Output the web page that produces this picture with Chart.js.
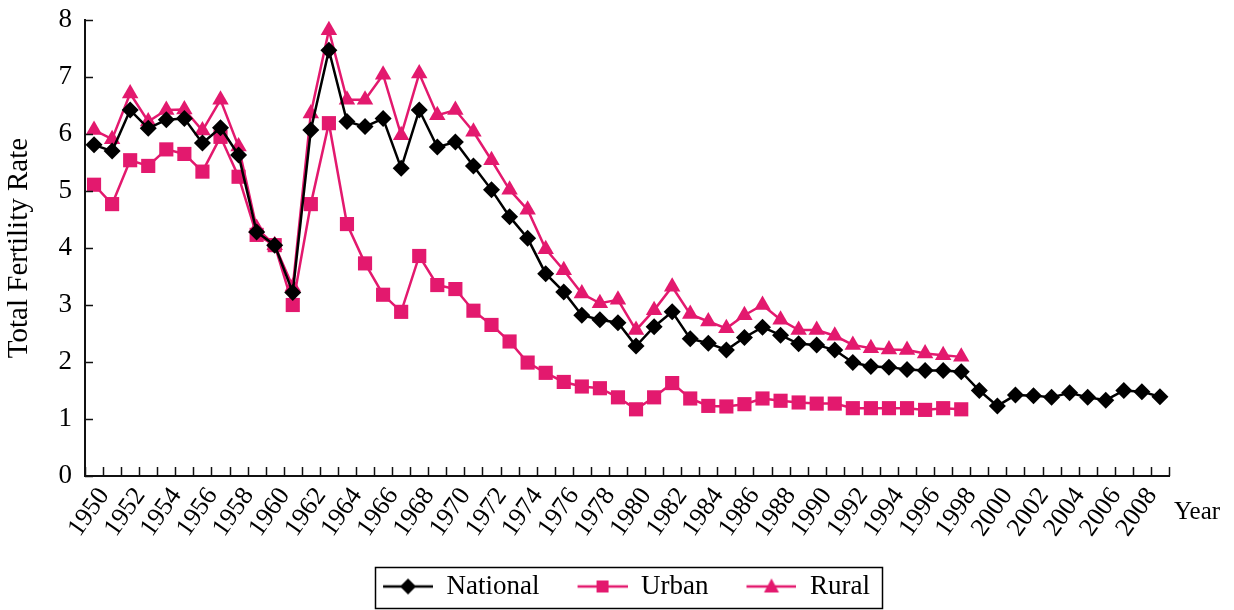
<!DOCTYPE html>
<html>
<head>
<meta charset="utf-8">
<script src="https://cdn.jsdelivr.net/npm/chart.js@4/dist/chart.umd.min.js"></script>
<style>
html,body{margin:0;padding:0;background:#fff;}
#wrap{width:1234px;height:610px;position:relative;}
</style>
</head>
<body>
<div id="wrap"><canvas id="c" width="1234" height="610"></canvas></div>
<script>
// ---- data ----
const years = ['1950','1951','1952','1953','1954','1955','1956','1957','1958','1959',
  '1960','1961','1962','1963','1964','1965','1966','1967','1968','1969',
  '1970','1971','1972','1973','1974','1975','1976','1977','1978','1979',
  '1980','1981','1982','1983','1984','1985','1986','1987','1988','1989',
  '1990','1991','1992','1993','1994','1995','1996','1997','1998','1999',
  '2000','2001','2002','2003','2004','2005','2006','2007','2008','2009'];
const tickLabels = ['1950','1952','1954','1956','1958','1960','1962','1964','1966','1968',
  '1970','1972','1974','1976','1978','1980','1982','1984','1986','1988',
  '1990','1992','1994','1996','1998','2000','2002','2004','2006','2008'];
const national = [5.81,5.70,6.42,6.10,6.25,6.27,5.84,6.11,5.63,4.28,
  4.05,3.22,6.07,7.47,6.22,6.13,6.27,5.40,6.42,5.77,
  5.86,5.44,5.02,4.55,4.17,3.55,3.23,2.82,2.74,2.69,
  2.28,2.62,2.88,2.41,2.33,2.21,2.43,2.61,2.47,2.32,
  2.30,2.21,1.99,1.92,1.91,1.87,1.85,1.85,1.83,1.50,
  1.23,1.42,1.41,1.38,1.46,1.38,1.33,1.50,1.48,1.39];
const urban = [5.11,4.77,5.54,5.44,5.73,5.65,5.34,5.95,5.25,4.23,
  4.05,3.00,4.77,6.19,4.42,3.73,3.18,2.88,3.86,3.35,
  3.28,2.90,2.65,2.36,1.99,1.81,1.65,1.57,1.54,1.38,
  1.17,1.38,1.63,1.36,1.23,1.22,1.26,1.36,1.32,1.29,
  1.27,1.27,1.19,1.19,1.19,1.19,1.16,1.19,1.17,null,
  null,null,null,null,null,null,null,null,null,null];
const rural = [6.07,5.91,6.71,6.22,6.42,6.43,6.06,6.60,5.78,4.35,
  4.05,3.32,6.36,7.82,6.60,6.60,7.04,5.98,7.06,6.33,
  6.42,6.04,5.54,5.02,4.67,3.98,3.61,3.20,3.03,3.09,
  2.56,2.91,3.32,2.84,2.71,2.59,2.82,3.00,2.74,2.56,
  2.56,2.46,2.30,2.24,2.22,2.21,2.15,2.12,2.09,null,
  null,null,null,null,null,null,null,null,null,null];
const yTicks = [0,1,2,3,4,5,6,7,8];
const seriesNames = ['National','Urban','Rural'];

// ---- styling ----
const BLACK = '#000000';
const PINK = '#E3196E';
const SERIF = "'Liberation Serif', 'Times New Roman', serif";
const LEG_BLANK = 28;
const LEG_SHIFT = 28;

function legendSymbol(color, shape) {
  const c = document.createElement('canvas');
  c.width = 50 + LEG_BLANK; c.height = 24;
  const g = c.getContext('2d');
  const x0 = LEG_BLANK, x1 = 50 + LEG_BLANK, cy = 12, cx = LEG_BLANK + 25;
  g.strokeStyle = color; g.lineWidth = 2.5;
  g.beginPath(); g.moveTo(x0, cy); g.lineTo(x1, cy); g.stroke();
  g.fillStyle = color;
  g.beginPath();
  if (shape === 'diamond') {
    g.moveTo(cx, cy - 8); g.lineTo(cx + 8, cy); g.lineTo(cx, cy + 8); g.lineTo(cx - 8, cy);
  } else if (shape === 'square') {
    g.rect(cx - 6, cy - 6, 12, 12);
  } else {
    g.moveTo(cx, cy - 8); g.lineTo(cx + 7.5, cy + 6); g.lineTo(cx - 7.5, cy + 6);
  }
  g.closePath(); g.fill();
  return c;
}
const legendSymbols = [legendSymbol(BLACK,'diamond'), legendSymbol(PINK,'square'), legendSymbol(PINK,'triangle')];

const decorations = {
  id: 'decorations',
  afterUpdate(chart) {
    const lg = chart.legend;
    if (!lg) return;
    lg.left += LEG_SHIFT; lg.right += LEG_SHIFT;
    (lg.legendHitBoxes || []).forEach(h => { h.left += LEG_SHIFT; });
  },
  afterDraw(chart) {
    const ctx = chart.ctx, xs = chart.scales.x, ys = chart.scales.y, a = chart.chartArea;
    ctx.save();
    ctx.strokeStyle = '#111'; ctx.lineWidth = 1.5;
    ctx.beginPath();
    for (let i = 0; i <= years.length; i++) {
      const px = Math.round(xs.getPixelForValue(i - 0.5)) + 0.5;
      ctx.moveTo(px, a.bottom); ctx.lineTo(px, a.bottom - 9);
    }
    yTicks.forEach(v => {
      const py = Math.round(ys.getPixelForValue(v)) + 0.5;
      ctx.moveTo(a.left, py); ctx.lineTo(a.left + 8, py);
    });
    ctx.stroke();
    // "Year" axis note
    ctx.fillStyle = '#000';
    ctx.font = "25px " + SERIF;
    ctx.textAlign = 'left'; ctx.textBaseline = 'middle';
    ctx.fillText('Year', a.right + 5, a.bottom + 36);
    // legend frame
    const lg = chart.legend;
    if (lg && lg.legendHitBoxes && lg.legendHitBoxes.length) {
      const hb = lg.legendHitBoxes;
      const l = hb[0].left + LEG_BLANK - 8;
      const r = hb[hb.length - 1].left + hb[hb.length - 1].width + 12;
      ctx.strokeStyle = '#000'; ctx.lineWidth = 1.5;
      ctx.strokeRect(Math.round(l) + 0.5, Math.round(lg.top + 4) + 0.5, Math.round(r - l), Math.round(lg.bottom - lg.top - 6));
    }
    ctx.restore();
  }
};

new Chart(document.getElementById('c'), {
  type: 'line',
  data: {
    labels: years,
    datasets: [
      { label: seriesNames[0], data: national, borderColor: BLACK, backgroundColor: BLACK,
        borderWidth: 2.5, pointStyle: 'rectRot', pointRadius: 8.5, pointBorderWidth: 0, tension: 0 },
      { label: seriesNames[1], data: urban, borderColor: PINK, backgroundColor: PINK,
        borderWidth: 2.5, pointStyle: 'rect', pointRadius: 10, pointBorderWidth: 0, tension: 0 },
      { label: seriesNames[2], data: rural, borderColor: PINK, backgroundColor: PINK,
        borderWidth: 2.5, pointStyle: 'triangle', pointRadius: 9.5, pointBorderWidth: 0, tension: 0 }
    ]
  },
  options: {
    responsive: false,
    animation: false,
    devicePixelRatio: 1,
    layout: { padding: { top: 20, right: 65, bottom: 0, left: 0 } },
    plugins: {
      tooltip: { enabled: false },
      legend: {
        position: 'bottom',
        labels: {
          usePointStyle: true,
          pointStyleWidth: 50 + LEG_BLANK,
          padding: 10,
          color: '#000',
          font: { family: SERIF, size: 27 },
          generateLabels: (chart) => chart.data.datasets.map((ds, i) => ({
            text: ds.label, pointStyle: legendSymbols[i], fillStyle: 'transparent',
            strokeStyle: 'transparent', lineWidth: 0, hidden: false, datasetIndex: i, fontColor: '#000'
          }))
        }
      }
    },
    scales: {
      x: {
        type: 'category',
        offset: true,
        grid: { display: false, drawTicks: false },
        border: { display: true, color: '#111', width: 2 },
        ticks: {
          autoSkip: false, minRotation: 55, maxRotation: 55, padding: 6, labelOffset: 10,
          color: '#000', font: { family: SERIF, size: 26 },
          callback: function (value) {
            const y = this.getLabelForValue(value);
            return tickLabels.includes(y) ? y : '';
          }
        },
        afterFit: (s) => { s.height = 87; }
      },
      y: {
        min: 0, max: 8,
        grid: { display: false, drawTicks: false },
        border: { display: true, color: '#111', width: 2 },
        ticks: { stepSize: 1, padding: 13, color: '#000', font: { family: SERIF, size: 27 } },
        title: { display: true, text: 'Total Fertility Rate', color: '#000',
                 font: { family: SERIF, size: 29 }, padding: { top: 2, bottom: 0 } },
        afterFit: (s) => { s.width = 85; s.paddingTop = 0; s.paddingBottom = 0; }
      }
    }
  },
  plugins: [decorations]
});
</script>
</body>
</html>
